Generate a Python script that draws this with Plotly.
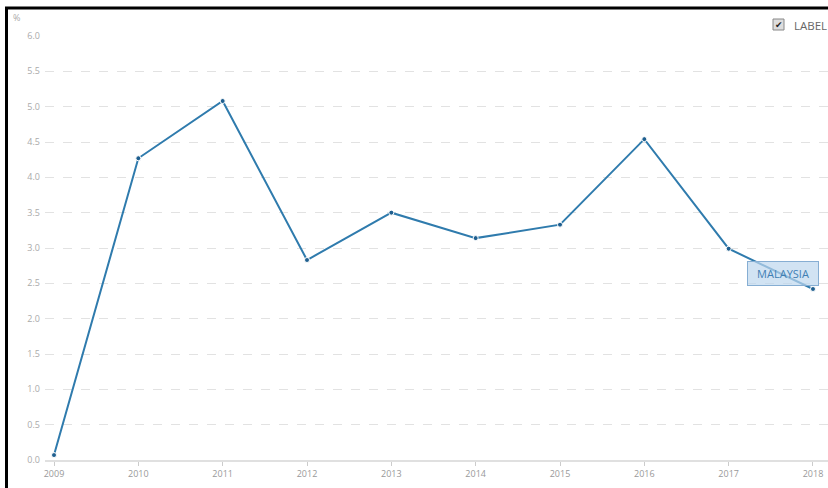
import plotly.graph_objects as go

years = [2009, 2010, 2011, 2012, 2013, 2014, 2015, 2016, 2017, 2018]
values = [0.07, 4.27, 5.08, 2.83, 3.50, 3.14, 3.33, 4.54, 2.99, 2.42]
y_ticks = [0.0, 0.5, 1.0, 1.5, 2.0, 2.5, 3.0, 3.5, 4.0, 4.5, 5.0, 5.5, 6.0]
series_name = "MALAYSIA"

W, H = 828, 488
L, R, T, B = 45, 0, 36, 28
pw, ph = W - L - R, H - T - B

def px(x):
    return (x - L) / pw

def py(y):
    return (H - B - y) / ph

fig = go.Figure()
fig.add_trace(go.Scatter(
    x=years, y=values, mode="lines+markers", name=series_name,
    line=dict(color="#2f7bad", width=2),
    marker=dict(size=5, color="#1f5f8f", line=dict(color="white", width=1)),
    cliponaxis=False, showlegend=False,
))

fig.update_layout(
    width=W, height=H,
    margin=dict(l=L, r=R, t=T, b=B),
    paper_bgcolor="white", plot_bgcolor="white",
    font=dict(family="Open Sans, DejaVu Sans, sans-serif", size=9, color="#999999"),
    xaxis=dict(
        range=[2009 - 9 / 84.3, 2018 + 15 / 84.3],
        tickvals=years, ticktext=[str(y) for y in years],
        showgrid=False, zeroline=False,
        showline=True, linecolor="#e0e0e0", linewidth=2,
        ticks="outside", ticklen=4, tickcolor="#cccccc",
        tickfont=dict(size=9, color="#999999"),
    ),
    yaxis=dict(
        range=[0, 6.0], tickvals=y_ticks,
        ticktext=[f"{v:.1f}" for v in y_ticks],
        showgrid=True, gridcolor="#e2e2e2", griddash="dash", gridwidth=1,
        zeroline=False, showline=False,
        tickfont=dict(size=9, color="#aaaaaa"), ticks="", ticklabelstandoff=4,
    ),
    shapes=[
        dict(type="line", xref="paper", yref="paper", x0=px(5), x1=px(W),
             y0=py(8), y1=py(8), line=dict(color="black", width=3)),
        dict(type="line", xref="paper", yref="paper", x0=px(6.5), x1=px(6.5),
             y0=py(7), y1=py(H), line=dict(color="black", width=3)),
        dict(type="rect", xref="paper", yref="paper", x0=px(773), x1=px(784),
             y0=py(30), y1=py(19), line=dict(color="#888888", width=1),
             fillcolor="#dddddd"),
    ],
    annotations=[
        dict(text="%", xref="paper", yref="paper", x=px(11), y=py(18),
             xanchor="left", yanchor="middle", showarrow=False,
             font=dict(size=9, color="#aaaaaa")),
        dict(text="✔", xref="paper", yref="paper", x=px(778.5), y=py(24.5),
             xanchor="center", yanchor="middle", showarrow=False,
             font=dict(size=9, color="#222222")),
        dict(text="LABEL", xref="paper", yref="paper", x=px(792), y=py(25),
             xanchor="left", yanchor="middle", showarrow=False,
             font=dict(size=11.5, color="#666666")),
        dict(text=series_name, x=2017.64, y=2.64, xref="x", yref="y",
             showarrow=False, font=dict(size=11, color="#3f7fb3"),
             width=62, align="center",
             bgcolor="rgba(190,215,238,0.7)", bordercolor="#86aed3",
             borderwidth=1, borderpad=4),
    ],
)

fig.write_html(
    "out.html",
    post_script="document.body.style.margin='0';document.body.style.overflow='hidden';document.documentElement.style.overflow='hidden';",
)
